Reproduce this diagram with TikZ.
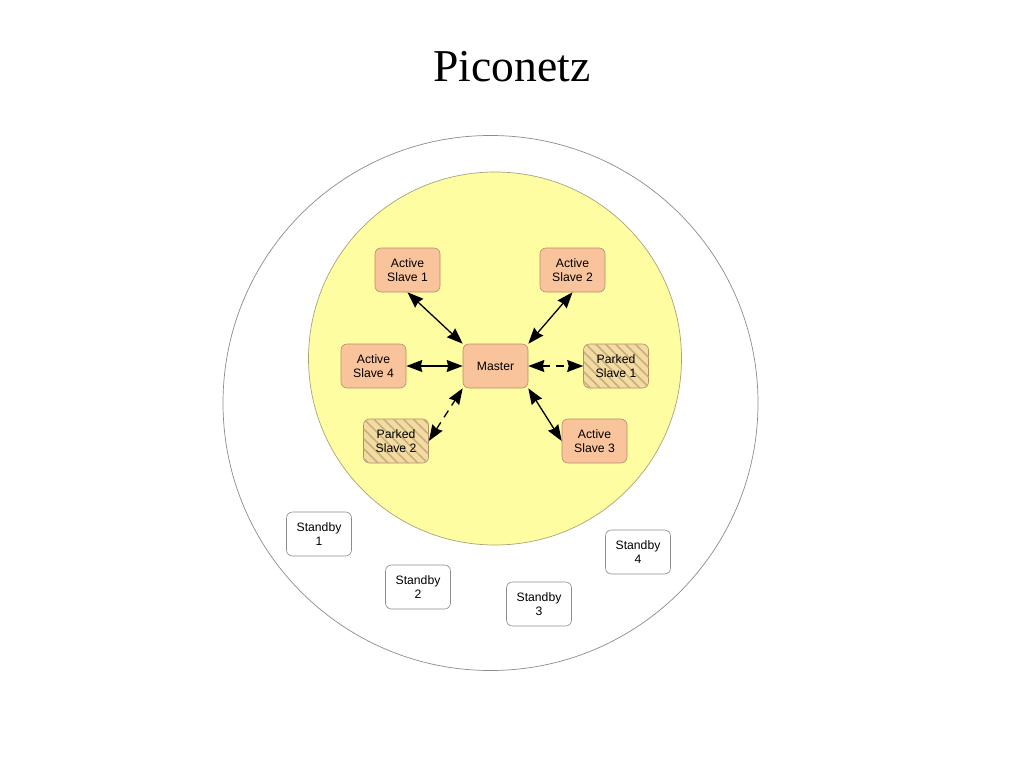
\documentclass[tikz,border=0pt]{standalone}
\usepackage{fontspec}
\setmainfont{Liberation Serif}
\newfontfamily\diagsans{Liberation Sans}
\usetikzlibrary{arrows.meta,patterns.meta}
\definecolor{peach}{HTML}{F9C49C}
\definecolor{peachline}{HTML}{B98A66}
\definecolor{sunny}{HTML}{FEFDA2}
\definecolor{sunnyline}{HTML}{A8A47A}
\definecolor{tan}{HTML}{F2DCA4}
\definecolor{stripe}{HTML}{C9AE78}
\definecolor{ringgray}{HTML}{8C8C8C}
\tikzset{
  box/.style={rectangle, rounded corners=6pt, minimum width=65pt, minimum height=44pt,
    inner sep=0pt, align=center, font=\diagsans\fontsize{12.2}{14.5}\selectfont, line width=0.6pt},
  activebox/.style={box, draw=peachline, fill=peach},
  parkedbox/.style={box, draw=peachline, fill=tan,
    postaction={pattern={Lines[angle=-45,distance=7pt,line width=1.6pt]}, pattern color=stripe}},
  standbybox/.style={box, draw=ringgray, fill=white},
  tip/.style={},
  link/.style={line width=1.3pt, {Stealth[length=16pt,width=12pt,inset=1.5pt]}-{Stealth[length=16pt,width=12pt,inset=1.5pt]}},
  parklink/.style={link, dash pattern=on 8pt off 6pt}
}
\begin{document}
\begin{tikzpicture}[x=1pt,y=-1pt]
\useasboundingbox[fill=white] (0,0) rectangle (1024,768);
\node[font=\fontsize{45.6}{50}\selectfont] (title) at (512,67) {Piconetz};
\draw[ringgray, line width=0.7pt] (490.5,403) circle (267.5);
\draw[sunnyline, fill=sunny, line width=0.7pt] (495,358.5) circle (186.5);
\node[activebox] (s1) at (407.5,270) {Active\\Slave 1};
\node[activebox] (s2) at (572.5,270) {Active\\Slave 2};
\node[activebox] (s4) at (373.5,366) {Active\\Slave 4};
\node[activebox] (m) at (495.5,366) {Master};
\node[parkedbox] (p1) at (616,366) {Parked\\Slave 1};
\node[parkedbox] (p2) at (396,441) {Parked\\Slave 2};
\node[activebox] (s3) at (594.5,441) {Active\\Slave 3};
\node[standbybox] (sb1) at (319,534) {Standby\\1};
\node[standbybox] (sb2) at (418,587) {Standby\\2};
\node[standbybox] (sb3) at (539,604) {Standby\\3};
\node[standbybox] (sb4) at (638,552) {Standby\\4};
\draw[link] (s1.south) -- (m.north west);
\draw[link] (s2.south) -- (m.north east);
\draw[link] (s4.east) -- (m.west);
\draw[link] (s3.west) -- (m.south east);
\draw[parklink] (m.east) -- (p1.west);
\draw[parklink] (p2.east) -- (m.south west);
\end{tikzpicture}
\end{document}
